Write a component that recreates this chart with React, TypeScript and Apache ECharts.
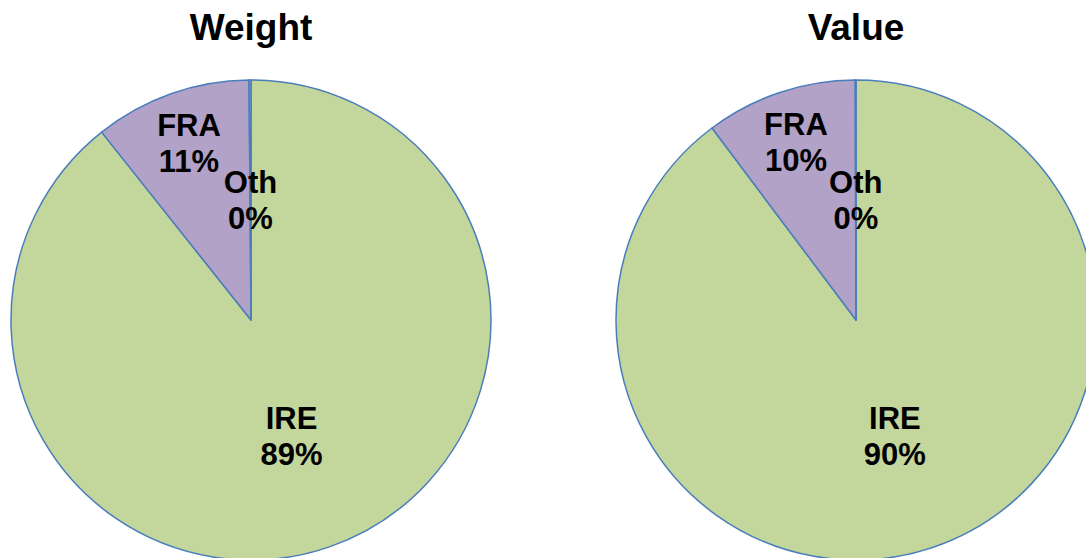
import React, { useEffect, useRef } from "react";
import * as echarts from "echarts";

const categories = ["IRE", "FRA", "Oth"];
const weightValues = [89.31, 10.56, 0.13];
const valueValues = [89.76, 10.19, 0.05];
const titles = ["Weight", "Value"];
const colors = ["#C3D69B", "#B3A2C7", "#95B3D7"];

export default function App() {
  const ref = useRef<HTMLDivElement>(null);
  useEffect(() => {
    if (!ref.current) return;
    const chart = echarts.init(ref.current, null, { renderer: "svg" });
    const centers = [251, 856];
    const makeSeries = (vals: number[], idx: number) => ({
      type: "pie",
      center: [centers[idx], 320],
      radius: 240,
      startAngle: 90,
      clockwise: true,
      percentPrecision: 0,
      avoidLabelOverlap: false,
      data: categories.map((c, i) => ({
        name: c,
        value: vals[i],
        itemStyle: { color: colors[i] },
      })),
      itemStyle: { borderColor: "#4A7EBB", borderWidth: 1.5 },
      label: {
        show: true,
        position: "inside",
        formatter: "{b}\n{d}%",
        fontFamily: "'Liberation Sans', Arial, sans-serif",
        fontWeight: "bold",
        fontSize: 31,
        lineHeight: 36,
        color: "#000",
      },
      labelLine: { show: false },
      labelLayout: (p: any) =>
        p.dataIndex === 1 ? { dx: -21, dy: -61 } : p.dataIndex === 2 ? { dy: 3 } : {},
      emphasis: { disabled: true },
      silent: true,
    });
    chart.setOption({
      animation: false,
      graphic: titles.map((t, i) => ({
        type: "text",
        x: centers[i],
        y: 27,
        style: {
          text: t,
          textAlign: "center",
          textVerticalAlign: "middle",
          font: "bold 37px 'Liberation Sans', Arial, sans-serif",
          fill: "#000",
        },
      })),
      series: [makeSeries(weightValues, 0), makeSeries(valueValues, 1)],
    });
    return () => chart.dispose();
  }, []);
  return (
    <div
      ref={ref}
      style={{ position: "absolute", left: 0, top: 0, width: 1086, height: 558, background: "#fff" }}
    />
  );
}
